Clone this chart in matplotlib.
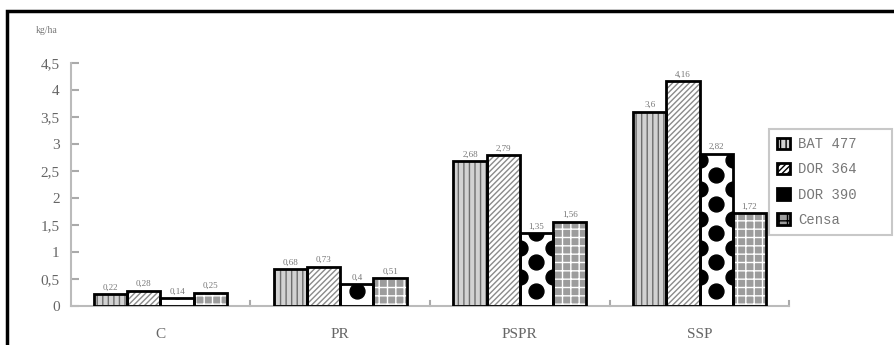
import numpy as np
import matplotlib.pyplot as plt
from matplotlib.patches import Patch, Rectangle

# Yield by treatment and variety
categories = ["C", "PR", "PSPR", "SSP"]
varieties = ["BAT 477", "DOR 364", "DOR 390", "Censa"]
bat477 = [0.22, 0.68, 2.68, 3.6]
dor364 = [0.28, 0.73, 2.79, 4.16]
dor390 = [0.14, 0.4, 1.35, 2.82]
censa = [0.25, 0.51, 1.56, 1.72]
yticks = [0, 0.5, 1, 1.5, 2, 2.5, 3, 3.5, 4, 4.5]

series = [bat477, dor364, dor390, censa]
fills = [
    dict(facecolor="#d2d2d2", hatch="|||", edgecolor="#6e6e6e"),
    dict(facecolor="white", hatch="//////", edgecolor="#8a8a8a"),
    dict(facecolor="white", hatch=None, edgecolor="white"),
    dict(facecolor="#9c9c9c", hatch="++", edgecolor="white"),
]

plt.rcParams["font.family"] = ["Liberation Serif", "DejaVu Serif"]
plt.rcParams["hatch.linewidth"] = 1.0

fig = plt.figure(figsize=(8.94, 3.45), dpi=100)
ax = fig.add_axes([0.079, 0.113, 0.804, 0.704])

x = np.arange(len(categories))
w = 0.185
offsets = (np.arange(4) - 1.5) * w

for i, vals in enumerate(series):
    f = fills[i]
    bars = ax.bar(x + offsets[i], vals, w, facecolor=f["facecolor"],
                  hatch=f["hatch"], edgecolor=f["edgecolor"], linewidth=0, zorder=2)
    if i == 2:
        # big black dots, staggered, clipped to each bar
        for b in bars:
            x0, bw, h = b.get_x(), b.get_width(), b.get_height()
            step = 0.54
            ys = np.arange(step / 2, h + step, step)
            pts = [(x0 + bw / 2, yy) for yy in ys] + \
                  [(x0, yy + step / 2) for yy in ys] + [(x0 + bw, yy + step / 2) for yy in ys]
            px, py = zip(*pts)
            sc = ax.scatter(px, py, s=115, color="black", zorder=3)
            sc.set_clip_path(b)
    ax.bar(x + offsets[i], vals, w, fill=False, edgecolor="black", linewidth=2, zorder=4)
    for xi, v in zip(x + offsets[i], vals):
        ax.text(xi, v + 0.05, f"{v:g}".replace(".", ","), ha="center", va="bottom",
                fontsize=6.5, color="#777777", zorder=5)

ax.set_xlim(-0.5, 3.5)
ax.set_ylim(0, 4.5)
ax.set_yticks(yticks)
ax.set_yticklabels([f"{t:g}".replace(".", ",") for t in yticks], fontsize=11, color="#666666")
ax.set_xticks(x)
ax.set_xticklabels(categories, fontsize=11, color="#666666")
ax.tick_params(axis="x", length=0, pad=16)
ax.tick_params(axis="y", direction="in", length=6, color="#aaaaaa", width=1.5, pad=8)
# short boundary ticks between categories
for b in np.arange(0.5, 4.0, 1.0):
    ax.plot([b, b], [0, 0.1], color="#aaaaaa", lw=1.5, zorder=1, clip_on=False)
for s in ["top", "right"]:
    ax.spines[s].set_visible(False)
ax.spines["left"].set_color("#bbbbbb")
ax.spines["bottom"].set_color("#bbbbbb")
ax.spines["left"].set_linewidth(1.5)
ax.spines["bottom"].set_linewidth(1.5)

fig.text(0.040, 0.905, "kg/ha", fontsize=7, color="#777777")

handles = [Patch(facecolor=f["facecolor"] if i != 2 else "black", hatch=f["hatch"],
                 edgecolor="black", linewidth=2) for i, f in enumerate(fills)]
leg = fig.legend(handles, varieties, loc="upper left",
                 bbox_to_anchor=(0.860, 0.30, 0.138, 0.326), mode="expand",
                 borderaxespad=0, frameon=True, fancybox=False,
                 handlelength=0.9, handleheight=0.9,
                 handletextpad=0.6, labelspacing=0.8, borderpad=0.6,
                 prop={"family": "Liberation Mono", "size": 10})
leg.get_frame().set_edgecolor("#bbbbbb")
leg.get_frame().set_linewidth(1.5)
for t in leg.get_texts():
    t.set_color("#777777")

# outer frame around the chart
fig.patches.append(Rectangle((0.008, -0.05), 1.1, 1.018, transform=fig.transFigure,
                             fill=False, edgecolor="black", linewidth=2.5))

fig.savefig("out.png", dpi=100)
